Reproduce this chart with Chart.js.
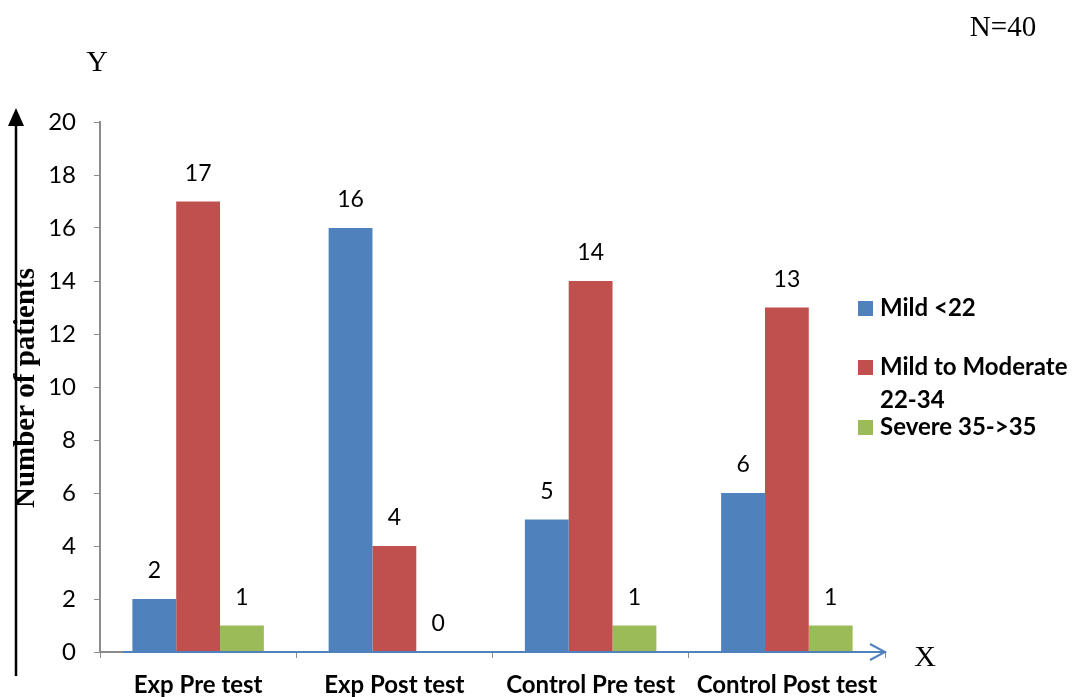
<!DOCTYPE html>
<html>
<head>
<meta charset="utf-8">
<script src="https://cdn.jsdelivr.net/npm/chart.js@4/dist/chart.umd.min.js"></script>
<style>
  html, body { margin: 0; padding: 0; background: #fff; }
  #wrap { width: 1078px; height: 697px; position: relative; }
</style>
</head>
<body>
<div id="wrap"><canvas id="c" width="1078" height="697"></canvas></div>
<script>
// Patients per depression-score band, by group and test
const categories = ['Exp Pre test', 'Exp Post test', 'Control Pre test', 'Control Post test'];
const seriesNames = [['Mild <22'], ['Mild to Moderate', '22-34'], ['Severe 35->35']];
const mildValues = [2, 16, 5, 6];
const moderateValues = [17, 4, 14, 13];
const severeValues = [1, 0, 1, 1];
const yTicks = [0, 2, 4, 6, 8, 10, 12, 14, 16, 18, 20];

const colors = ['#4F81BD', '#C0504D', '#9BBB59'];
const sans = 'Lato, "Open Sans", sans-serif';
const serif = '"Liberation Serif", "DejaVu Serif", serif';

// Value labels above each bar
const valueLabels = {
  id: 'valueLabels',
  afterDatasetsDraw(chart) {
    const ctx = chart.ctx;
    ctx.save();
    ctx.fillStyle = '#000';
    ctx.font = '23px ' + sans;
    ctx.textAlign = 'center';
    ctx.textBaseline = 'middle';
    chart.data.datasets.forEach((ds, i) => {
      chart.getDatasetMeta(i).data.forEach((bar, j) => {
        ctx.fillText(String(ds.data[j]), bar.x, bar.y - 28);
      });
    });
    ctx.restore();
  }
};

// Axis arrows, axis letters, side legend and notes
const decorations = {
  id: 'decorations',
  afterDraw(chart) {
    const ctx = chart.ctx;
    const area = chart.chartArea;
    const y0 = chart.scales.y.getPixelForValue(0);
    ctx.save();

    // blue arrow along the category axis
    ctx.strokeStyle = '#4F81BD';
    ctx.lineWidth = 2;
    ctx.beginPath();
    ctx.moveTo(area.left + 23, y0);
    ctx.lineTo(area.right, y0);
    ctx.stroke();
    ctx.beginPath();
    ctx.moveTo(area.right - 15, y0 - 8);
    ctx.lineTo(area.right, y0);
    ctx.lineTo(area.right - 15, y0 + 8);
    ctx.stroke();

    // black vertical arrow
    ctx.strokeStyle = '#000';
    ctx.fillStyle = '#000';
    ctx.lineWidth = 2.5;
    ctx.beginPath();
    ctx.moveTo(16, 676);
    ctx.lineTo(16, 122);
    ctx.stroke();
    ctx.beginPath();
    ctx.moveTo(16, 108);
    ctx.lineTo(8, 126);
    ctx.lineTo(24, 126);
    ctx.closePath();
    ctx.fill();

    // axis title
    ctx.save();
    ctx.translate(27, 388);
    ctx.rotate(-Math.PI / 2);
    ctx.font = 'bold 29px ' + serif;
    ctx.textAlign = 'center';
    ctx.textBaseline = 'middle';
    ctx.fillText('Number of patients', 0, 0);
    ctx.restore();

    // axis letters and total
    ctx.font = '30px ' + serif;
    ctx.textAlign = 'center';
    ctx.textBaseline = 'middle';
    ctx.fillText('Y', 97, 63);
    ctx.fillText('X', 925, 658);
    ctx.font = '29px ' + serif;
    ctx.fillText('N=40', 1003, 28);

    // legend
    ctx.textAlign = 'left';
    ctx.font = 'bold 24px ' + sans;
    const rows = [308, 367, 427];
    chart.data.datasets.forEach((ds, i) => {
      const cy = rows[i];
      ctx.fillStyle = ds.backgroundColor;
      ctx.fillRect(858, cy - 7, 15, 15);
      ctx.fillStyle = '#000';
      const lines = seriesNames[i];
      lines.forEach((t, k) => ctx.fillText(t, 880, cy + k * 33));
    });
    ctx.restore();
  }
};

new Chart(document.getElementById('c'), {
  type: 'bar',
  data: {
    labels: categories,
    datasets: [
      { label: seriesNames[0].join(' '), data: mildValues, backgroundColor: colors[0] },
      { label: seriesNames[1].join(' '), data: moderateValues, backgroundColor: colors[1] },
      { label: seriesNames[2].join(' '), data: severeValues, backgroundColor: colors[2] }
    ]
  },
  options: {
    responsive: false,
    animation: false,
    devicePixelRatio: 1,
    layout: { padding: { top: 122, right: 193, left: 0, bottom: 0 } },
    datasets: { bar: { categoryPercentage: 0.67, barPercentage: 1.0 } },
    plugins: { legend: { display: false }, tooltip: { enabled: false } },
    scales: {
      x: {
        grid: { display: true, drawOnChartArea: false, drawTicks: true, tickLength: 6, color: '#8c8c8c', offset: true },
        border: { display: true, color: '#8c8c8c', width: 2 },
        ticks: { color: '#000', font: { family: sans, size: 24, weight: 'bold' }, padding: 13, maxRotation: 0, autoSkip: false },
        afterFit(scale) { scale.height = 45; }
      },
      y: {
        min: 0, max: 20,
        afterBuildTicks(scale) { scale.ticks = yTicks.map(v => ({ value: v })); },
        grid: { display: true, drawOnChartArea: false, drawTicks: true, tickLength: 6, color: '#8c8c8c' },
        border: { display: true, color: '#8c8c8c', width: 2 },
        ticks: { color: '#000', font: { family: sans, size: 24 }, padding: 18 },
        afterFit(scale) { scale.width = 100; }
      }
    }
  },
  plugins: [valueLabels, decorations]
});
</script>
</body>
</html>
